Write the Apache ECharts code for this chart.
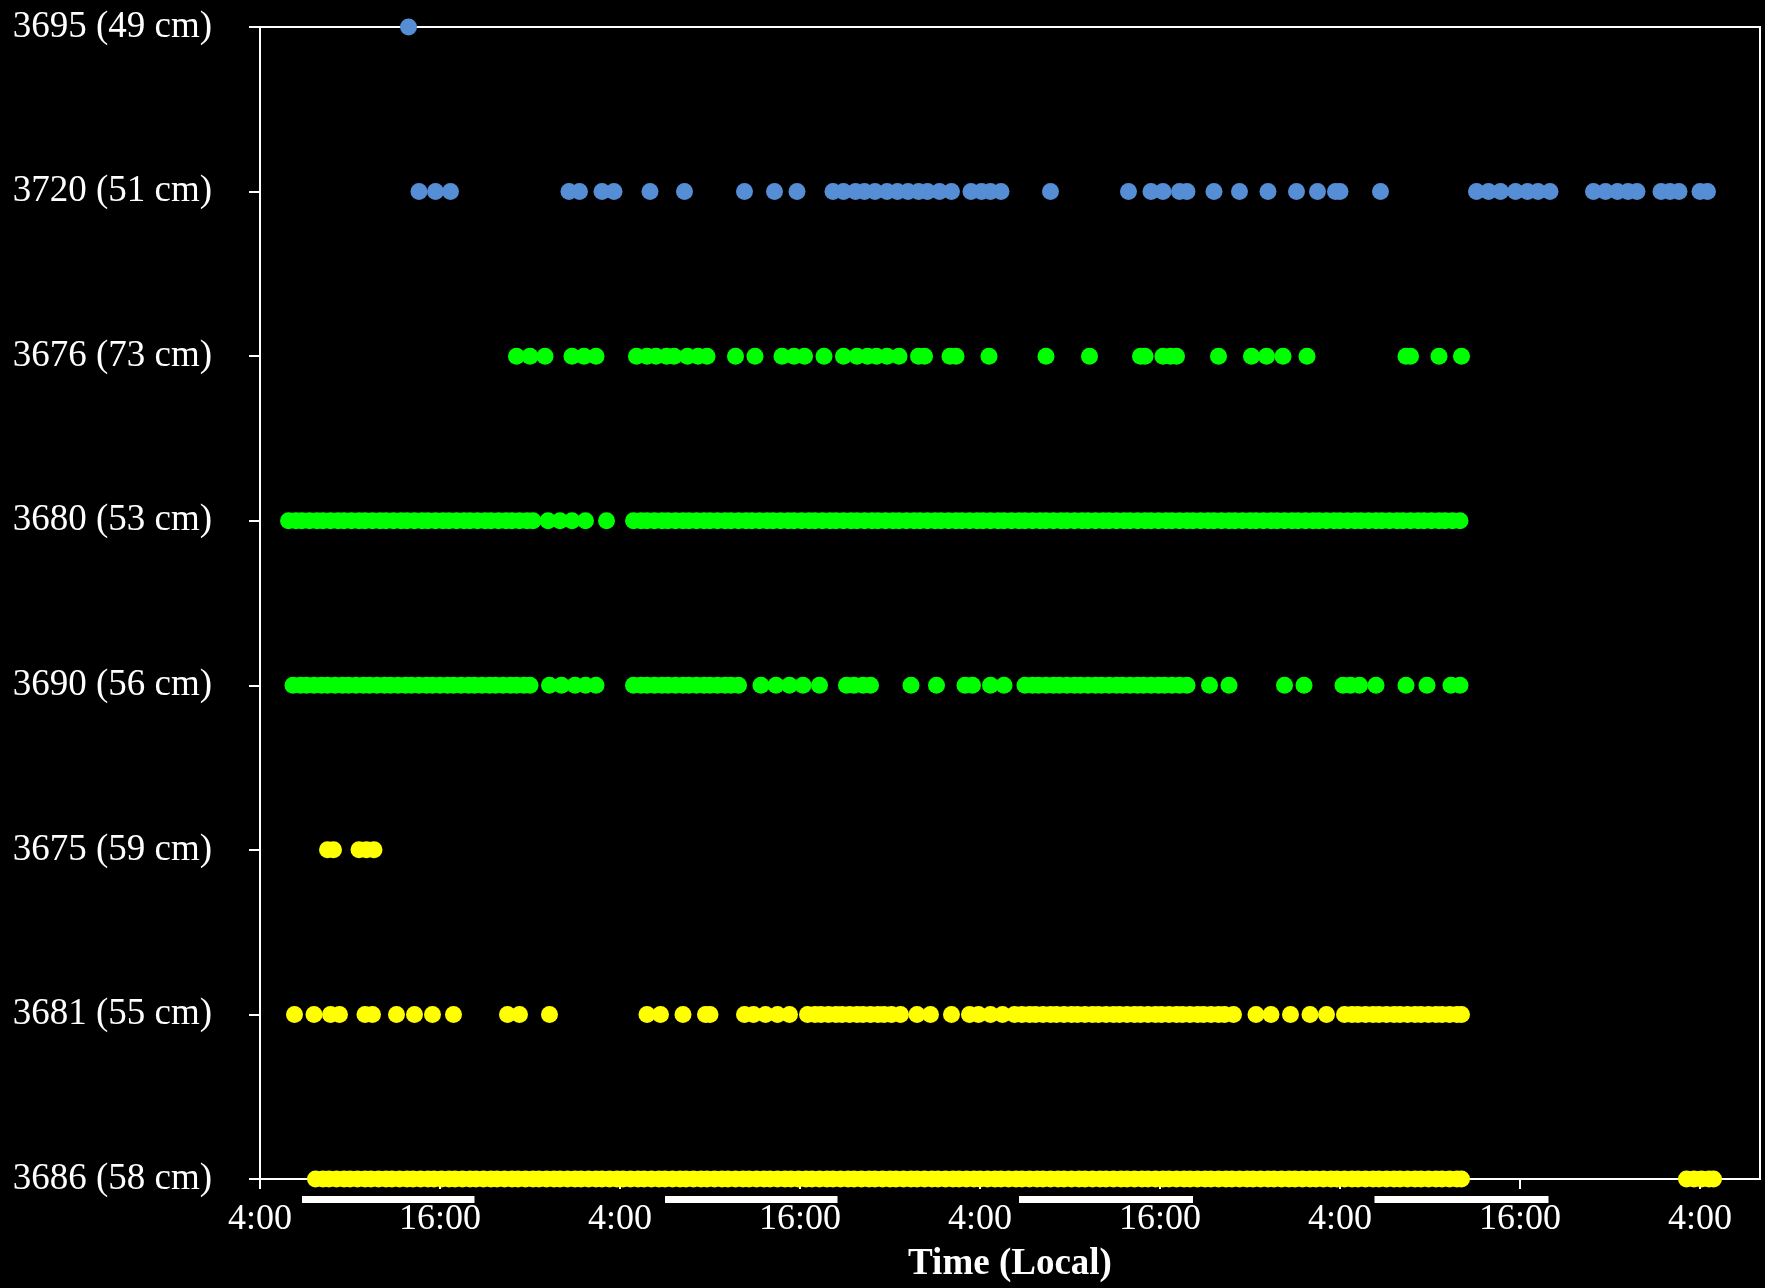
<!DOCTYPE html>
<html>
<head>
<meta charset="utf-8">
<style>
  html, body { margin: 0; padding: 0; background: #000; }
  #chart { width: 1765px; height: 1288px; }
</style>
<script src="https://cdn.jsdelivr.net/npm/echarts@6/dist/echarts.min.js"></script>
</head>
<body>
<div id="chart"></div>
<script>
// Receiver rows, bottom to top on the y axis
const rowLabels = ['3686 (58 cm)', '3681 (55 cm)', '3675 (59 cm)', '3690 (56 cm)',
                   '3680 (53 cm)', '3676 (73 cm)', '3720 (51 cm)', '3695 (49 cm)'];

// x axis: hours since the first 4:00 local
const xTicks = [0, 12, 24, 36, 48, 60, 72, 84, 96];
const xTickLabels = ['4:00', '16:00', '4:00', '16:00', '4:00', '16:00', '4:00', '16:00', '4:00'];

// daylight periods (hours)
const dayStart = [2.8, 27.0, 50.6, 74.3];
const dayEnd = [14.3, 38.5, 62.2, 85.9];

// detection times (hours) per receiver
const det3695 = [9.9];
const det3720 = [10.6, 11.7, 12.7, 20.6, 21.3, 22.8, 23.6, 26.0, 28.3, 32.3, 34.3, 35.8,
  38.2, 38.9, 39.7, 40.3, 41.0, 41.8, 42.5, 43.2, 43.9, 44.5, 45.3, 46.1, 47.4, 48.1, 48.7, 49.4,
  52.7, 57.9, 59.4, 60.2, 61.3, 61.8, 63.6, 65.3, 67.2, 69.1, 70.5, 71.7, 72.0, 74.7,
  81.1, 81.9, 82.7, 83.7, 84.5, 85.2, 86.0, 88.9, 89.7, 90.5, 91.2, 91.8, 93.4, 94.0, 94.6, 96.0, 96.5];
const det3676 = [17.1, 18.0, 19.0, 20.8, 21.6, 22.4, 25.1, 25.8, 26.4, 27.1, 27.6, 28.5, 29.2, 29.8,
  31.7, 33.0, 34.8, 35.6, 36.3, 37.6, 38.9, 39.8, 40.5, 41.1, 41.8, 42.6, 43.9, 44.3, 46.0, 46.4,
  48.6, 52.4, 55.3, 58.7, 59.0, 60.2, 60.7, 61.1, 63.9, 66.1, 67.1, 68.2, 69.8, 76.4, 76.7, 78.6, 80.1];
const det3680 = [1.9, 2.4, 2.8, 3.3, 3.8, 4.2, 4.7, 5.2, 5.6, 6.1, 6.6, 7.0, 7.5, 8.0, 8.4, 8.9, 9.4,
  9.8, 10.3, 10.8, 11.2, 11.7, 12.2, 12.6, 13.1, 13.6, 14.0, 14.5, 15.0, 15.4, 15.9, 16.4, 16.8, 17.3,
  17.8, 18.2, 19.2, 20.0, 20.8, 21.7, 23.1,
  24.9, 25.4, 25.8, 26.3, 26.8, 27.2, 27.7, 28.2, 28.6, 29.1, 29.6, 30.0, 30.5, 31.0, 31.4, 31.9,
  32.4, 32.8, 33.3, 33.8, 34.2, 34.7, 35.2, 35.6, 36.1, 36.6, 37.0, 37.5, 38.0, 38.4, 38.9, 39.4,
  39.8, 40.3, 40.8, 41.2, 41.7, 42.2, 42.6, 43.1, 43.6, 44.0, 44.5, 45.0, 45.4, 45.9, 46.4, 46.8,
  47.3, 47.8, 48.2, 48.7, 49.2, 49.6, 50.1, 50.6, 51.0, 51.5, 52.0, 52.4, 52.9, 53.4, 53.8, 54.3,
  54.8, 55.2, 55.7, 56.2, 56.6, 57.1, 57.6, 58.0, 58.5, 59.0, 59.4, 59.9, 60.4, 60.8, 61.3, 61.8,
  62.2, 62.7, 63.2, 63.6, 64.1, 64.6, 65.0, 65.5, 66.0, 66.4, 66.9, 67.4, 67.8, 68.3, 68.8, 69.2,
  69.7, 70.2, 70.6, 71.1, 71.6, 72.0, 72.5, 73.0, 73.4, 73.9, 74.4, 74.8, 75.3, 75.8, 76.2, 76.7,
  77.2, 77.6, 78.1, 78.6, 79.0, 79.5, 80.0];
const det3690 = [2.2, 2.7, 3.1, 3.6, 4.1, 4.5, 5.0, 5.5, 5.9, 6.4, 6.9, 7.3, 7.8, 8.3, 8.7, 9.2, 9.7,
  10.1, 10.6, 11.1, 11.5, 12.0, 12.5, 12.9, 13.4, 13.9, 14.3, 14.8, 15.3, 15.7, 16.2, 16.7, 17.1,
  17.6, 18.0, 19.3, 20.1, 21.0, 21.7, 22.4,
  24.9, 25.4, 25.8, 26.3, 26.8, 27.2, 27.7, 28.2, 28.6, 29.1, 29.6, 30.0, 30.5, 31.0, 31.4, 31.9,
  33.4, 34.4, 35.3, 36.2, 37.3, 39.1, 39.6, 40.2, 40.7, 43.4, 45.1, 47.0, 47.5, 48.7, 49.6,
  51.0, 51.5, 51.9, 52.4, 52.9, 53.3, 53.8, 54.3, 54.7, 55.2, 55.7, 56.1, 56.6, 57.1, 57.5, 58.0,
  58.5, 58.9, 59.4, 59.9, 60.3, 60.8, 61.3, 61.8,
  63.3, 64.6, 68.3, 69.6, 72.2, 72.7, 73.3, 74.4, 76.4, 77.8, 79.4, 80.0];
const det3675 = [4.5, 4.9, 6.6, 7.1, 7.6];
const det3681 = [2.3, 3.6, 4.7, 5.3, 7.0, 7.5, 9.1, 10.3, 11.5, 12.9, 16.5, 17.3, 19.3, 25.8, 26.7,
  28.2, 29.7, 30.0, 32.3, 32.9, 33.7, 34.5, 35.3,
  36.5, 37.0, 37.4, 37.9, 38.4, 38.8, 39.3, 39.8, 40.2, 40.7, 41.2, 41.6, 42.1, 42.7,
  43.8, 44.7, 46.1, 47.3, 47.9, 48.7, 49.5, 50.3,
  50.8, 51.3, 51.7, 52.2, 52.7, 53.1, 53.6, 54.1, 54.5, 55.0, 55.5, 55.9, 56.4, 56.9, 57.3, 57.8,
  58.3, 58.7, 59.2, 59.7, 60.1, 60.6, 61.1, 61.5, 62.0, 62.5, 62.9, 63.4, 63.9, 64.3, 64.9,
  66.4, 67.4, 68.7, 70.0, 71.1,
  72.3, 72.8, 73.2, 73.7, 74.2, 74.6, 75.1, 75.6, 76.0, 76.5, 77.0, 77.4, 77.9, 78.4, 78.8, 79.3,
  79.8, 80.1];
const det3686 = [3.7, 4.2, 4.6, 5.1, 5.6, 6.0, 6.5, 7.0, 7.4, 7.9, 8.4, 8.8, 9.3, 9.8, 10.2, 10.7,
  11.2, 11.6, 12.1, 12.6, 13.0, 13.5, 14.0, 14.4, 14.9, 15.4, 15.8, 16.3, 16.8, 17.2, 17.7, 18.2,
  18.6, 19.1, 19.6, 20.0, 20.5, 21.0, 21.4, 21.9, 22.4, 22.8, 23.3, 23.8, 24.2, 24.7, 25.2, 25.6,
  26.1, 26.6, 27.0, 27.5, 28.0, 28.4, 28.9, 29.4, 29.8, 30.3, 30.8, 31.2, 31.7, 32.2, 32.6, 33.1,
  33.6, 34.0, 34.5, 35.0, 35.4, 35.9, 36.4, 36.8, 37.3, 37.8, 38.2, 38.7, 39.2, 39.6, 40.1, 40.6,
  41.0, 41.5, 42.0, 42.4, 42.9, 43.4, 43.8, 44.3, 44.8, 45.2, 45.7, 46.2, 46.6, 47.1, 47.6, 48.0,
  48.5, 49.0, 49.4, 49.9, 50.4, 50.8, 51.3, 51.8, 52.2, 52.7, 53.2, 53.6, 54.1, 54.6, 55.0, 55.5,
  56.0, 56.4, 56.9, 57.4, 57.8, 58.3, 58.8, 59.2, 59.7, 60.2, 60.6, 61.1, 61.6, 62.0, 62.5, 63.0,
  63.4, 63.9, 64.4, 64.8, 65.3, 65.8, 66.2, 66.7, 67.2, 67.6, 68.1, 68.6, 69.0, 69.5, 70.0, 70.4,
  70.9, 71.4, 71.8, 72.3, 72.8, 73.2, 73.7, 74.2, 74.6, 75.1, 75.6, 76.0, 76.5, 77.0, 77.4, 77.9,
  78.4, 78.8, 79.3, 79.8, 80.1, 95.1, 95.6, 96.1, 96.6, 96.9];

const blue = '#558ed5', green = '#00ff00', yellow = '#ffff00';

const rows = [
  { label: '3695 (49 cm)', color: blue, hours: det3695 },
  { label: '3720 (51 cm)', color: blue, hours: det3720 },
  { label: '3676 (73 cm)', color: green, hours: det3676 },
  { label: '3680 (53 cm)', color: green, hours: det3680 },
  { label: '3690 (56 cm)', color: green, hours: det3690 },
  { label: '3675 (59 cm)', color: yellow, hours: det3675 },
  { label: '3681 (55 cm)', color: yellow, hours: det3681 },
  { label: '3686 (58 cm)', color: yellow, hours: det3686 }
];

const font = 'Liberation Serif, Times New Roman, serif';
const white = '#ffffff';

const scatterSeries = rows.map(r => ({
  type: 'scatter',
  name: r.label,
  data: r.hours.map(h => [h, r.label]),
  symbol: 'circle',
  symbolSize: 17,
  itemStyle: { color: r.color, opacity: 1 },
  clip: false,
  silent: true
}));

// white daylight bars drawn just below the time axis
const daylightSeries = {
  type: 'custom',
  silent: true,
  clip: false,
  z: 5,
  data: dayStart.map((s, i) => [s, dayEnd[i], 0]),
  encode: { x: [0, 1], y: 2 },
  renderItem: function (params, api) {
    const a = api.coord([api.value(0), 0]);
    const b = api.coord([api.value(1), 0]);
    return {
      type: 'rect',
      shape: { x: a[0], y: a[1] + 17, width: b[0] - a[0], height: 7 },
      style: { fill: white }
    };
  }
};

const chart = echarts.init(document.getElementById('chart'), null, { renderer: 'canvas' });
chart.setOption({
  backgroundColor: '#000000',
  animation: false,
  grid: {
    left: 260, right: 5, top: 27, bottom: 106,
    show: true, borderColor: white, borderWidth: 2, backgroundColor: 'transparent'
  },
  xAxis: {
    type: 'value',
    min: 0, max: 100, interval: 12,
    axisLine: { show: true, onZero: false, lineStyle: { color: white, width: 2 } },
    axisTick: { show: true, length: 10, customValues: xTicks, lineStyle: { color: white, width: 2 } },
    axisLabel: {
      customValues: xTicks,
      color: white, fontFamily: font, fontSize: 36, margin: 23,
      formatter: v => {
        const i = xTicks.indexOf(Math.round(v));
        return i >= 0 ? xTickLabels[i] : '';
      }
    },
    splitLine: { show: false },
    name: 'Time (Local)',
    nameLocation: 'middle',
    nameGap: 67,
    nameTextStyle: { color: white, fontFamily: font, fontWeight: 'bold', fontSize: 37 }
  },
  yAxis: {
    type: 'category',
    data: rowLabels,
    boundaryGap: false,
    axisLine: { show: true, onZero: false, lineStyle: { color: white, width: 2 } },
    axisTick: { show: true, length: 11, interval: 0, lineStyle: { color: white, width: 2 } },
    axisLabel: { interval: 0, color: white, fontFamily: font, fontSize: 37, margin: 48 },
    splitLine: { show: false }
  },
  series: scatterSeries.concat([daylightSeries])
});
</script>
</body>
</html>
